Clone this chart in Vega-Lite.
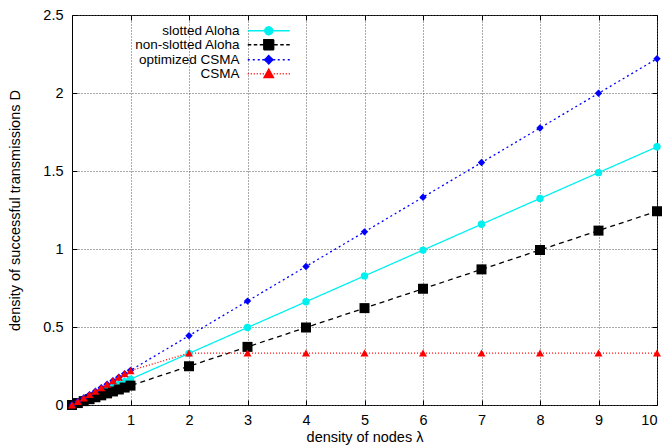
{
  "$schema": "https://vega.github.io/schema/vega-lite/v6.json",
  "width": 585,
  "height": 390,
  "autosize": "none",
  "padding": {"left": 72, "top": 15, "right": 13, "bottom": 43},
  "background": "white",
  "config": {
    "font": "Liberation Sans",
    "view": {"stroke": "black", "strokeWidth": 1},
    "axis": {
      "labelFont": "Liberation Sans",
      "titleFont": "Liberation Sans",
      "labelFontSize": 14.5,
      "titleFontSize": 14.5,
      "titleFontWeight": "normal",
      "labelColor": "#000",
      "titleColor": "#000",
      "domain": false,
      "gridColor": "#555",
      "gridDash": [1, 2],
      "gridOpacity": 1,
      "tickColor": "#000",
      "tickSize": -5
    },
    "legend": {"labelFont": "Liberation Sans", "labelFontSize": 13.5, "labelColor": "#000", "padding": 0}
  },
  "data": {
    "values": [
      {"series": "slotted Aloha", "lambda": 0, "D": 0},
      {"series": "slotted Aloha", "lambda": 0.1, "D": 0.0166},
      {"series": "slotted Aloha", "lambda": 0.2, "D": 0.0331},
      {"series": "slotted Aloha", "lambda": 0.3, "D": 0.0497},
      {"series": "slotted Aloha", "lambda": 0.4, "D": 0.0662},
      {"series": "slotted Aloha", "lambda": 0.5, "D": 0.0828},
      {"series": "slotted Aloha", "lambda": 0.6, "D": 0.0993},
      {"series": "slotted Aloha", "lambda": 0.7, "D": 0.1159},
      {"series": "slotted Aloha", "lambda": 0.8, "D": 0.1324},
      {"series": "slotted Aloha", "lambda": 0.9, "D": 0.149},
      {"series": "slotted Aloha", "lambda": 1, "D": 0.1655},
      {"series": "slotted Aloha", "lambda": 2, "D": 0.331},
      {"series": "slotted Aloha", "lambda": 3, "D": 0.4965},
      {"series": "slotted Aloha", "lambda": 4, "D": 0.662},
      {"series": "slotted Aloha", "lambda": 5, "D": 0.8275},
      {"series": "slotted Aloha", "lambda": 6, "D": 0.993},
      {"series": "slotted Aloha", "lambda": 7, "D": 1.1585},
      {"series": "slotted Aloha", "lambda": 8, "D": 1.324},
      {"series": "slotted Aloha", "lambda": 9, "D": 1.4895},
      {"series": "slotted Aloha", "lambda": 10, "D": 1.655},
      {"series": "non-slotted Aloha", "lambda": 0, "D": 0},
      {"series": "non-slotted Aloha", "lambda": 0.1, "D": 0.0124},
      {"series": "non-slotted Aloha", "lambda": 0.2, "D": 0.0248},
      {"series": "non-slotted Aloha", "lambda": 0.3, "D": 0.0373},
      {"series": "non-slotted Aloha", "lambda": 0.4, "D": 0.0497},
      {"series": "non-slotted Aloha", "lambda": 0.5, "D": 0.0621},
      {"series": "non-slotted Aloha", "lambda": 0.6, "D": 0.0745},
      {"series": "non-slotted Aloha", "lambda": 0.7, "D": 0.0869},
      {"series": "non-slotted Aloha", "lambda": 0.8, "D": 0.0994},
      {"series": "non-slotted Aloha", "lambda": 0.9, "D": 0.1118},
      {"series": "non-slotted Aloha", "lambda": 1, "D": 0.1242},
      {"series": "non-slotted Aloha", "lambda": 2, "D": 0.2484},
      {"series": "non-slotted Aloha", "lambda": 3, "D": 0.3726},
      {"series": "non-slotted Aloha", "lambda": 4, "D": 0.4968},
      {"series": "non-slotted Aloha", "lambda": 5, "D": 0.621},
      {"series": "non-slotted Aloha", "lambda": 6, "D": 0.7452},
      {"series": "non-slotted Aloha", "lambda": 7, "D": 0.8694},
      {"series": "non-slotted Aloha", "lambda": 8, "D": 0.9936},
      {"series": "non-slotted Aloha", "lambda": 9, "D": 1.1178},
      {"series": "non-slotted Aloha", "lambda": 10, "D": 1.242},
      {"series": "optimized CSMA", "lambda": 0, "D": 0},
      {"series": "optimized CSMA", "lambda": 0.1, "D": 0.0222},
      {"series": "optimized CSMA", "lambda": 0.2, "D": 0.0444},
      {"series": "optimized CSMA", "lambda": 0.3, "D": 0.0666},
      {"series": "optimized CSMA", "lambda": 0.4, "D": 0.0888},
      {"series": "optimized CSMA", "lambda": 0.5, "D": 0.111},
      {"series": "optimized CSMA", "lambda": 0.6, "D": 0.1332},
      {"series": "optimized CSMA", "lambda": 0.7, "D": 0.1554},
      {"series": "optimized CSMA", "lambda": 0.8, "D": 0.1776},
      {"series": "optimized CSMA", "lambda": 0.9, "D": 0.1998},
      {"series": "optimized CSMA", "lambda": 1, "D": 0.222},
      {"series": "optimized CSMA", "lambda": 2, "D": 0.444},
      {"series": "optimized CSMA", "lambda": 3, "D": 0.666},
      {"series": "optimized CSMA", "lambda": 4, "D": 0.888},
      {"series": "optimized CSMA", "lambda": 5, "D": 1.11},
      {"series": "optimized CSMA", "lambda": 6, "D": 1.332},
      {"series": "optimized CSMA", "lambda": 7, "D": 1.554},
      {"series": "optimized CSMA", "lambda": 8, "D": 1.776},
      {"series": "optimized CSMA", "lambda": 9, "D": 1.998},
      {"series": "optimized CSMA", "lambda": 10, "D": 2.22},
      {"series": "CSMA", "lambda": 0, "D": 0},
      {"series": "CSMA", "lambda": 0.1, "D": 0.0222},
      {"series": "CSMA", "lambda": 0.2, "D": 0.0444},
      {"series": "CSMA", "lambda": 0.3, "D": 0.0666},
      {"series": "CSMA", "lambda": 0.4, "D": 0.0888},
      {"series": "CSMA", "lambda": 0.5, "D": 0.111},
      {"series": "CSMA", "lambda": 0.6, "D": 0.1332},
      {"series": "CSMA", "lambda": 0.7, "D": 0.1554},
      {"series": "CSMA", "lambda": 0.8, "D": 0.1776},
      {"series": "CSMA", "lambda": 0.9, "D": 0.1998},
      {"series": "CSMA", "lambda": 1, "D": 0.22},
      {"series": "CSMA", "lambda": 2, "D": 0.333},
      {"series": "CSMA", "lambda": 3, "D": 0.333},
      {"series": "CSMA", "lambda": 4, "D": 0.333},
      {"series": "CSMA", "lambda": 5, "D": 0.333},
      {"series": "CSMA", "lambda": 6, "D": 0.333},
      {"series": "CSMA", "lambda": 7, "D": 0.333},
      {"series": "CSMA", "lambda": 8, "D": 0.333},
      {"series": "CSMA", "lambda": 9, "D": 0.333},
      {"series": "CSMA", "lambda": 10, "D": 0.333}
    ]
  },
  "resolve": {"axis": {"x": "independent", "y": "independent"}},
  "layer": [
    {
      "mark": {"type": "line", "strokeWidth": 1.3},
      "encoding": {
        "x": {
          "field": "lambda",
          "type": "quantitative",
          "scale": {"domain": [0, 10], "nice": false, "zero": true},
          "axis": {"orient": "bottom", "values": [1, 2, 3, 4, 5, 6, 7, 8, 9, 10], "title": "density of nodes λ", "labelPadding": 13, "titleY": 25}
        },
        "y": {
          "field": "D",
          "type": "quantitative",
          "scale": {"domain": [0, 2.5], "nice": false},
          "axis": {"orient": "left", "values": [0, 0.5, 1, 1.5, 2, 2.5], "format": "~g", "title": "density of successful transmissions D", "labelPadding": 14, "titleX": -50}
        },
        "color": {
          "field": "series",
          "type": "nominal",
          "scale": {
            "domain": ["slotted Aloha", "non-slotted Aloha", "optimized CSMA", "CSMA"],
            "range": ["#00f0f0", "#000000", "#0000ff", "#ff0000"]
          },
          "legend": {
            "title": null,
            "orient": "none",
            "legendX": 190,
            "legendY": 9,
            "rowPadding": -1,
            "symbolSize": 100,
            "labelAlign": "right",
            "labelOffset": -36,
            "encoding": {
              "symbols": {
                "shape": {"value": {"expr": "datum.value === 'slotted Aloha' ? 'M-4.2,0H4.2M-0.8,0A0.8,0.8 0 1,0 0.8,0A0.8,0.8 0 1,0 -0.8,0Z' : datum.value === 'non-slotted Aloha' ? 'M-4.2,0H-3.5M-3,0H-2.3M-1.8,0H-1.1M1.1,0H1.8M2.3,0H3M3.5,0H4.2M-1,-1H1V1H-1Z' : datum.value === 'optimized CSMA' ? 'M-4.2,0H-3.8M-3.2,0H-2.8M-2.2,0H-1.8M-1.3,0H-0.9M0.9,0H1.3M1.8,0H2.2M2.8,0H3.2M3.8,0H4.2M0,-0.85L0.85,0L0,0.85L-0.85,0Z' : 'M-4.2,0H-4M-3.6,0H-3.4M-3,0H-2.8M-2.4,0H-2.2M-1.8,0H-1.6M-1.2,0H-1M1,0H1.2M1.6,0H1.8M2.2,0H2.4M2.8,0H3M3.4,0H3.6M4,0H4.2M0,-0.95L0.95,0.75L-0.95,0.75Z'"}},
                "strokeDash": {"value": [1, 0]},
                "fill": {"value": {"expr": "scale('color', datum.value)"}},
                "stroke": {"value": {"expr": "scale('color', datum.value)"}},
                "size": {"value": 100},
                "strokeWidth": {"value": 1.3},
                "fillOpacity": {"value": 1},
                "opacity": {"value": 1}
              }
            }
          }
        },
        "strokeDash": {
          "field": "series",
          "type": "nominal",
          "scale": {
            "domain": ["non-slotted Aloha", "optimized CSMA", "CSMA", "slotted Aloha"],
            "range": [[5, 4], [2, 3], [1, 2], [1, 0]]
          },
          "legend": null
        }
      }
    },
    {
      "mark": {"type": "point", "filled": true, "opacity": 1},
      "encoding": {
        "x": {
          "field": "lambda",
          "type": "quantitative",
          "scale": {"domain": [0, 10], "nice": false, "zero": true},
          "axis": {"orient": "top", "values": [1, 2, 3, 4, 5, 6, 7, 8, 9, 10], "title": null, "labels": false, "grid": false}
        },
        "y": {
          "field": "D",
          "type": "quantitative",
          "scale": {"domain": [0, 2.5], "nice": false},
          "axis": {"orient": "right", "values": [0, 0.5, 1, 1.5, 2, 2.5], "title": null, "labels": false, "grid": false}
        },
        "color": {
          "field": "series",
          "type": "nominal",
          "scale": {
            "domain": ["slotted Aloha", "non-slotted Aloha", "optimized CSMA", "CSMA"],
            "range": ["#00f0f0", "#000000", "#0000ff", "#ff0000"]
          },
          "legend": null
        },
        "shape": {
          "field": "series",
          "type": "nominal",
          "scale": {
            "domain": ["CSMA", "slotted Aloha", "non-slotted Aloha", "optimized CSMA"],
            "range": ["triangle-up", "circle", "square", "diamond"]
          },
          "legend": null
        },
        "size": {
          "field": "series",
          "type": "nominal",
          "scale": {
            "type": "ordinal",
            "domain": ["optimized CSMA", "CSMA", "slotted Aloha", "non-slotted Aloha"],
            "range": [55, 65, 55, 100]
          },
          "legend": null
        }
      }
    }
  ]
}
